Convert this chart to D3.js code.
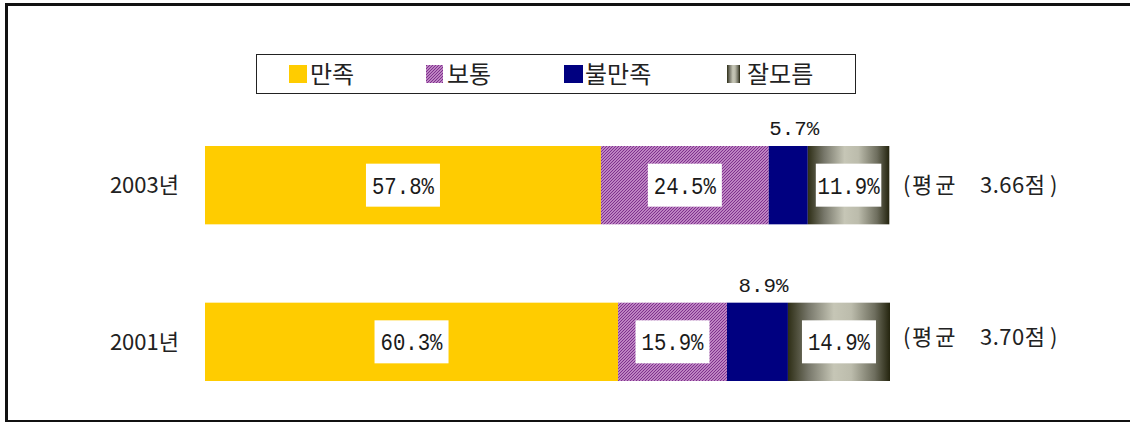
<!DOCTYPE html>
<html>
<head>
<meta charset="utf-8">
<script src="https://cdn.jsdelivr.net/npm/d3@7"></script>
<style>
  body { margin: 0; background: #fff; }
  text { font-family: "Noto Sans CJK KR", "Noto Sans", sans-serif; fill: #222; }
  .val { font-family: "Liberation Mono", "DejaVu Sans Mono", monospace; fill: #1a1a1a; }
</style>
</head>
<body>
<div id="chart"></div>
<script>
/* DATA */
const years = ["2003년", "2001년"];
const categories = ["만족", "보통", "불만족", "잘모름"];
const satisfied = [57.8, 60.3];
const normal = [24.5, 15.9];
const dissatisfied = [5.7, 8.9];
const unknown = [11.9, 14.9];
const averages = ["3.66", "3.70"];

const width = 1130, height = 423;

const svg = d3.select("#chart").append("svg")
  .attr("width", width)
  .attr("height", height);

const defs = svg.append("defs");

// hatch for 보통
const hatch = defs.append("pattern")
  .attr("id", "hatch")
  .attr("patternUnits", "userSpaceOnUse")
  .attr("width", 3).attr("height", 3);
hatch.append("rect").attr("width", 3).attr("height", 3).attr("fill", "#d8a8d8");
hatch.append("path")
  .attr("d", "M-1,1 l2,-2 M0,3 l3,-3 M2,4 l2,-2")
  .attr("stroke", "#7a2a8a").attr("stroke-width", 1.1);

// metallic gradient for 잘모름
const grad = defs.append("linearGradient").attr("id", "metal")
  .attr("x1", 0).attr("x2", 1).attr("y1", 0).attr("y2", 0);
[[0, "#2e2e16"], [0.2, "#77776a"], [0.45, "#c6c6b6"], [0.62, "#bcbcac"], [0.85, "#6e6e5e"], [1, "#24240e"]]
  .forEach(s => grad.append("stop").attr("offset", s[0]).attr("stop-color", s[1]));

const fills = ["#ffcc00", "url(#hatch)", "#000080", "url(#metal)"];

// frame
svg.append("rect").attr("x", 5).attr("y", 3).attr("width", width).attr("height", 3).attr("fill", "#111");
svg.append("rect").attr("x", 5).attr("y", 3).attr("width", 3).attr("height", 419).attr("fill", "#111");
svg.append("rect").attr("x", 5).attr("y", 420).attr("width", width).attr("height", 2).attr("fill", "#111");

/* SCALES */
const xScale = d3.scaleLinear().domain([0, 100]).range([205, 890]);
const yScale = d3.scaleBand().domain(years).range([146, 381]).paddingInner(0.5);

// stack the series
const table = years.map((y, i) => ({
  year: y,
  "만족": satisfied[i], "보통": normal[i], "불만족": dissatisfied[i], "잘모름": unknown[i]
}));
const stacked = d3.stack().keys(categories)(table);

const groups = svg.selectAll("g.series")
  .data(stacked)
  .join("g")
  .attr("class", "series")
  .attr("fill", (d, i) => fills[i]);

groups.selectAll("rect")
  .data(d => d)
  .join("rect")
  .attr("x", d => xScale(d[0]))
  .attr("y", d => yScale(d.data.year))
  .attr("width", d => xScale(d[1]) - xScale(d[0]))
  .attr("height", yScale.bandwidth());

// value labels
stacked.forEach(series => {
  series.forEach(d => {
    const v = d[1] - d[0];
    const x0 = xScale(d[0]), x1 = xScale(d[1]);
    const cx = (x0 + x1) / 2;
    const y = yScale(d.data.year);
    const label = v.toFixed(1) + "%";
    if (v < 10) {
      svg.append("text")
        .attr("class", "val")
        .attr("x", cx + 6).attr("y", y - 11)
        .attr("text-anchor", "middle")
        .style("font-size", "20px")
        .attr("textLength", 50).attr("lengthAdjust", "spacingAndGlyphs")
        .text(label);
    } else {
      const bw = Math.min(74, (x1 - x0) - 16);
      const cy = y + yScale.bandwidth() / 2;
      svg.append("rect")
        .attr("x", cx - bw / 2).attr("y", cy - 21.5)
        .attr("width", bw).attr("height", 43)
        .attr("fill", "#fff");
      svg.append("text")
        .attr("class", "val")
        .attr("x", cx).attr("y", cy + 8.5)
        .attr("text-anchor", "middle")
        .style("font-size", "24px")
        .attr("textLength", 62).attr("lengthAdjust", "spacingAndGlyphs")
        .text(label);
    }
  });
});

// year labels
svg.selectAll("text.year")
  .data(years)
  .join("text")
  .attr("class", "year")
  .attr("x", 179)
  .attr("y", d => yScale(d) + yScale.bandwidth() / 2 + 8)
  .attr("text-anchor", "end")
  .style("font-size", "22px")
  .text(d => d);

// average labels
const avg = svg.selectAll("text.avg")
  .data(averages)
  .join("text")
  .attr("class", "avg")
  .attr("y", (d, i) => yScale(years[i]) + yScale.bandwidth() / 2 + 8 - (i === 1 ? 5 : 0))
  .style("font-size", "22px");
avg.append("tspan").attr("x", 903).text("(");
avg.append("tspan").attr("x", 912).style("letter-spacing", "3px").text("평균");
avg.append("tspan").attr("x", 980).style("letter-spacing", "0.5px").text(d => d + "점");
avg.append("tspan").attr("x", 1050).text(")");

/* LEGEND */
svg.append("rect")
  .attr("x", 256.5).attr("y", 54.5)
  .attr("width", 599).attr("height", 39)
  .attr("fill", "#fff").attr("stroke", "#222").attr("stroke-width", 1);

const legendX = [289, 426, 564, 727];
const legendW = [18, 17, 19, 13];
const legendTextX = [310, 447, 585, 747];
const legend = svg.selectAll("g.legend")
  .data(categories)
  .join("g")
  .attr("class", "legend");
legend.append("rect")
  .attr("x", (d, i) => legendX[i])
  .attr("y", 65)
  .attr("width", (d, i) => legendW[i])
  .attr("height", 18)
  .attr("fill", (d, i) => fills[i]);
legend.append("text")
  .attr("x", (d, i) => legendTextX[i])
  .attr("y", 83)
  .style("font-size", "24px")
  .text(d => d);
</script>
</body>
</html>
